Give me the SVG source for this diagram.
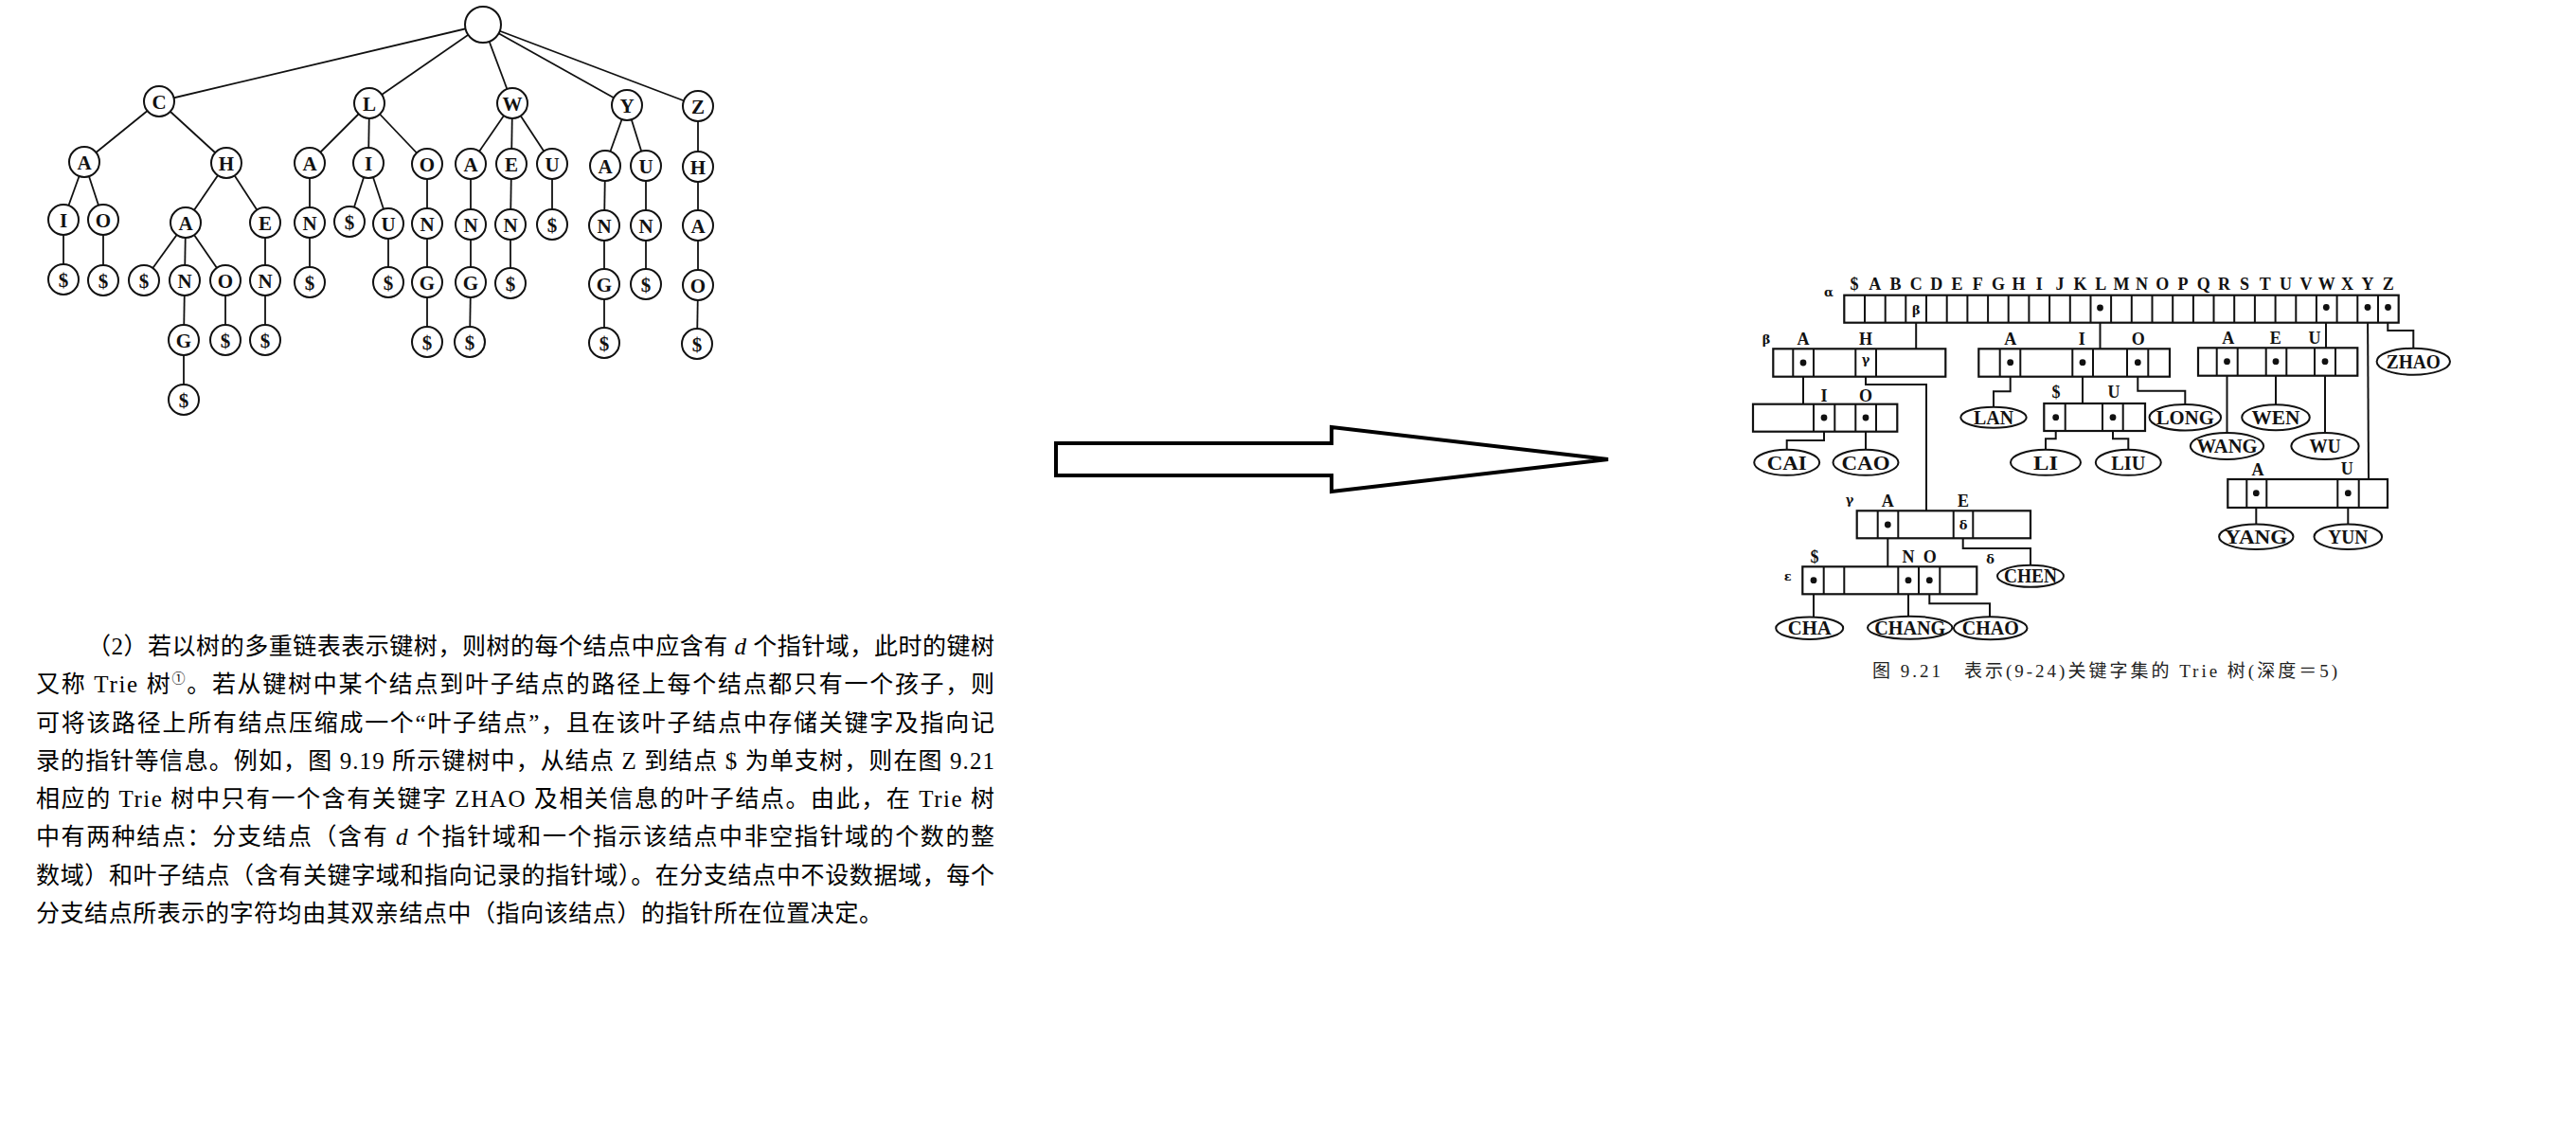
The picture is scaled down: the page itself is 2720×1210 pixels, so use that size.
<svg xmlns="http://www.w3.org/2000/svg" width="2720" height="1210" viewBox="0 0 2720 1210">
<style>
.bg{fill:#fff}
.tc{fill:#fff;stroke:#111;stroke-width:2}
.tl{font-family:"Liberation Serif",serif;font-weight:bold;font-size:21px;fill:#111;text-anchor:middle}
.ed{stroke:#111;stroke-width:1.8;fill:none}
.para{font-family:"Liberation Serif","Noto Sans CJK SC",serif;font-size:25px;fill:#000}
.box{fill:#fff;stroke:#111;stroke-width:2.2}
.dv{stroke:#111;stroke-width:2}
.lb{font-family:"Liberation Serif",serif;font-weight:bold;font-size:18px;fill:#111;text-anchor:middle}
.gk{font-family:"DejaVu Serif","Liberation Serif",serif;font-weight:bold;font-size:13px;fill:#111;text-anchor:middle}
.dot{fill:#111}
.ln{stroke:#111;stroke-width:2;fill:none}
.lf{fill:#fff;stroke:#111;stroke-width:2}
.lt{font-family:"Liberation Serif",serif;font-weight:bold;font-size:20px;fill:#111;text-anchor:middle}
.cap{font-family:"Liberation Serif","Noto Sans CJK SC",serif;font-size:19px;fill:#222}
.arrow{fill:#fff;stroke:#000;stroke-width:4;stroke-linejoin:miter}
</style>
<rect class="bg" x="0" y="0" width="2720" height="1210"/>

<!-- ===== Left: key tree ===== -->
<g id="tree-edges">
<line class="ed" x1="510" y1="26" x2="168" y2="107"/>
<line class="ed" x1="510" y1="26" x2="390" y2="109"/>
<line class="ed" x1="510" y1="26" x2="541" y2="109"/>
<line class="ed" x1="510" y1="26" x2="662" y2="111"/>
<line class="ed" x1="510" y1="26" x2="737" y2="112"/>
<line class="ed" x1="168" y1="107" x2="89" y2="171"/>
<line class="ed" x1="168" y1="107" x2="239" y2="172"/>
<line class="ed" x1="89" y1="171" x2="67" y2="232"/>
<line class="ed" x1="89" y1="171" x2="109" y2="232"/>
<line class="ed" x1="67" y1="232" x2="67" y2="295"/>
<line class="ed" x1="109" y1="232" x2="109" y2="296"/>
<line class="ed" x1="239" y1="172" x2="196" y2="235"/>
<line class="ed" x1="239" y1="172" x2="280" y2="235"/>
<line class="ed" x1="196" y1="235" x2="152" y2="296"/>
<line class="ed" x1="196" y1="235" x2="195" y2="296"/>
<line class="ed" x1="196" y1="235" x2="238" y2="296"/>
<line class="ed" x1="195" y1="296" x2="194" y2="359"/>
<line class="ed" x1="194" y1="359" x2="194" y2="422"/>
<line class="ed" x1="238" y1="296" x2="238" y2="359"/>
<line class="ed" x1="280" y1="235" x2="280" y2="296"/>
<line class="ed" x1="280" y1="296" x2="280" y2="359"/>
<line class="ed" x1="390" y1="109" x2="327" y2="172"/>
<line class="ed" x1="390" y1="109" x2="389" y2="172"/>
<line class="ed" x1="390" y1="109" x2="451" y2="173"/>
<line class="ed" x1="327" y1="172" x2="327" y2="235"/>
<line class="ed" x1="327" y1="235" x2="327" y2="298"/>
<line class="ed" x1="389" y1="172" x2="369" y2="234"/>
<line class="ed" x1="389" y1="172" x2="410" y2="236"/>
<line class="ed" x1="410" y1="236" x2="410" y2="298"/>
<line class="ed" x1="451" y1="173" x2="451" y2="236"/>
<line class="ed" x1="451" y1="236" x2="451" y2="298"/>
<line class="ed" x1="451" y1="298" x2="451" y2="361"/>
<line class="ed" x1="541" y1="109" x2="497" y2="173"/>
<line class="ed" x1="541" y1="109" x2="540" y2="173"/>
<line class="ed" x1="541" y1="109" x2="583" y2="173"/>
<line class="ed" x1="497" y1="173" x2="497" y2="237"/>
<line class="ed" x1="497" y1="237" x2="497" y2="298"/>
<line class="ed" x1="497" y1="298" x2="496" y2="361"/>
<line class="ed" x1="540" y1="173" x2="539" y2="237"/>
<line class="ed" x1="539" y1="237" x2="539" y2="299"/>
<line class="ed" x1="583" y1="173" x2="583" y2="237"/>
<line class="ed" x1="662" y1="111" x2="639" y2="175"/>
<line class="ed" x1="662" y1="111" x2="682" y2="175"/>
<line class="ed" x1="639" y1="175" x2="638" y2="238"/>
<line class="ed" x1="638" y1="238" x2="638" y2="300"/>
<line class="ed" x1="638" y1="300" x2="638" y2="362"/>
<line class="ed" x1="682" y1="175" x2="682" y2="238"/>
<line class="ed" x1="682" y1="238" x2="682" y2="300"/>
<line class="ed" x1="737" y1="112" x2="737" y2="176"/>
<line class="ed" x1="737" y1="176" x2="737" y2="238"/>
<line class="ed" x1="737" y1="238" x2="737" y2="301"/>
<line class="ed" x1="737" y1="301" x2="736" y2="363"/>
</g>

<g id="t-root"><circle class="tc" cx="510" cy="26" r="19"/></g>
<g id="t-C"><circle class="tc" cx="168" cy="107" r="16"/><text class="tl" x="168" y="114.5">C</text></g>
<g id="t-L"><circle class="tc" cx="390" cy="109" r="16"/><text class="tl" x="390" y="116.5">L</text></g>
<g id="t-W"><circle class="tc" cx="541" cy="109" r="16"/><text class="tl" x="541" y="116.5">W</text></g>
<g id="t-Y"><circle class="tc" cx="662" cy="111" r="16"/><text class="tl" x="662" y="118.5">Y</text></g>
<g id="t-Z"><circle class="tc" cx="737" cy="112" r="16"/><text class="tl" x="737" y="119.5">Z</text></g>

<g id="t-CA"><circle class="tc" cx="89" cy="171" r="16"/><text class="tl" x="89" y="178.5">A</text></g>
<g id="t-CH"><circle class="tc" cx="239" cy="172" r="16"/><text class="tl" x="239" y="179.5">H</text></g>
<g id="t-LA"><circle class="tc" cx="327" cy="172" r="16"/><text class="tl" x="327" y="179.5">A</text></g>
<g id="t-LI"><circle class="tc" cx="389" cy="172" r="16"/><text class="tl" x="389" y="179.5">I</text></g>
<g id="t-LO"><circle class="tc" cx="451" cy="173" r="16"/><text class="tl" x="451" y="180.5">O</text></g>
<g id="t-WA"><circle class="tc" cx="497" cy="173" r="16"/><text class="tl" x="497" y="180.5">A</text></g>
<g id="t-WE"><circle class="tc" cx="540" cy="173" r="16"/><text class="tl" x="540" y="180.5">E</text></g>
<g id="t-WU"><circle class="tc" cx="583" cy="173" r="16"/><text class="tl" x="583" y="180.5">U</text></g>
<g id="t-YA"><circle class="tc" cx="639" cy="175" r="16"/><text class="tl" x="639" y="182.5">A</text></g>
<g id="t-YU"><circle class="tc" cx="682" cy="175" r="16"/><text class="tl" x="682" y="182.5">U</text></g>
<g id="t-ZH"><circle class="tc" cx="737" cy="176" r="16"/><text class="tl" x="737" y="183.5">H</text></g>

<g id="t-CAI"><circle class="tc" cx="67" cy="232" r="16"/><text class="tl" x="67" y="239.5">I</text></g>
<g id="t-CAO"><circle class="tc" cx="109" cy="232" r="16"/><text class="tl" x="109" y="239.5">O</text></g>
<g id="t-CHA"><circle class="tc" cx="196" cy="235" r="16"/><text class="tl" x="196" y="242.5">A</text></g>
<g id="t-CHE"><circle class="tc" cx="280" cy="235" r="16"/><text class="tl" x="280" y="242.5">E</text></g>
<g id="t-LAN"><circle class="tc" cx="327" cy="235" r="16"/><text class="tl" x="327" y="242.5">N</text></g>
<g id="t-LI$"><circle class="tc" cx="369" cy="234" r="16"/><text class="tl" x="369" y="241.5">$</text></g>
<g id="t-LIU"><circle class="tc" cx="410" cy="236" r="16"/><text class="tl" x="410" y="243.5">U</text></g>
<g id="t-LON"><circle class="tc" cx="451" cy="236" r="16"/><text class="tl" x="451" y="243.5">N</text></g>
<g id="t-WAN"><circle class="tc" cx="497" cy="237" r="16"/><text class="tl" x="497" y="244.5">N</text></g>
<g id="t-WEN"><circle class="tc" cx="539" cy="237" r="16"/><text class="tl" x="539" y="244.5">N</text></g>
<g id="t-WU$"><circle class="tc" cx="583" cy="237" r="16"/><text class="tl" x="583" y="244.5">$</text></g>
<g id="t-YAN"><circle class="tc" cx="638" cy="238" r="16"/><text class="tl" x="638" y="245.5">N</text></g>
<g id="t-YUN"><circle class="tc" cx="682" cy="238" r="16"/><text class="tl" x="682" y="245.5">N</text></g>
<g id="t-ZHA"><circle class="tc" cx="737" cy="238" r="16"/><text class="tl" x="737" y="245.5">A</text></g>

<g id="t-CAI$"><circle class="tc" cx="67" cy="295" r="16"/><text class="tl" x="67" y="302.5">$</text></g>
<g id="t-CAO$"><circle class="tc" cx="109" cy="296" r="16"/><text class="tl" x="109" y="303.5">$</text></g>
<g id="t-CHA$"><circle class="tc" cx="152" cy="296" r="16"/><text class="tl" x="152" y="303.5">$</text></g>
<g id="t-CHAN"><circle class="tc" cx="195" cy="296" r="16"/><text class="tl" x="195" y="303.5">N</text></g>
<g id="t-CHAO"><circle class="tc" cx="238" cy="296" r="16"/><text class="tl" x="238" y="303.5">O</text></g>
<g id="t-CHEN"><circle class="tc" cx="280" cy="296" r="16"/><text class="tl" x="280" y="303.5">N</text></g>
<g id="t-LAN$"><circle class="tc" cx="327" cy="298" r="16"/><text class="tl" x="327" y="305.5">$</text></g>
<g id="t-LIU$"><circle class="tc" cx="410" cy="298" r="16"/><text class="tl" x="410" y="305.5">$</text></g>
<g id="t-LONG"><circle class="tc" cx="451" cy="298" r="16"/><text class="tl" x="451" y="305.5">G</text></g>
<g id="t-WANG"><circle class="tc" cx="497" cy="298" r="16"/><text class="tl" x="497" y="305.5">G</text></g>
<g id="t-WEN$"><circle class="tc" cx="539" cy="299" r="16"/><text class="tl" x="539" y="306.5">$</text></g>
<g id="t-YANG"><circle class="tc" cx="638" cy="300" r="16"/><text class="tl" x="638" y="307.5">G</text></g>
<g id="t-YUN$"><circle class="tc" cx="682" cy="300" r="16"/><text class="tl" x="682" y="307.5">$</text></g>
<g id="t-ZHAO"><circle class="tc" cx="737" cy="301" r="16"/><text class="tl" x="737" y="308.5">O</text></g>

<g id="t-CHANG"><circle class="tc" cx="194" cy="359" r="16"/><text class="tl" x="194" y="366.5">G</text></g>
<g id="t-CHAO$"><circle class="tc" cx="238" cy="359" r="16"/><text class="tl" x="238" y="366.5">$</text></g>
<g id="t-CHEN$"><circle class="tc" cx="280" cy="359" r="16"/><text class="tl" x="280" y="366.5">$</text></g>
<g id="t-LONG$"><circle class="tc" cx="451" cy="361" r="16"/><text class="tl" x="451" y="368.5">$</text></g>
<g id="t-WANG$"><circle class="tc" cx="496" cy="361" r="16"/><text class="tl" x="496" y="368.5">$</text></g>
<g id="t-YANG$"><circle class="tc" cx="638" cy="362" r="16"/><text class="tl" x="638" y="369.5">$</text></g>
<g id="t-ZHAO$"><circle class="tc" cx="736" cy="363" r="16"/><text class="tl" x="736" y="370.5">$</text></g>
<g id="t-CHANG$"><circle class="tc" cx="194" cy="422" r="16"/><text class="tl" x="194" y="429.5">$</text></g>

<!-- ===== paragraph ===== -->
<g id="paragraph">
<text class="para" x="92" y="691" textLength="958" lengthAdjust="spacing">（2）若以树的多重链表表示键树，则树的每个结点中应含有 <tspan font-style="italic">d</tspan> 个指针域，此时的键树</text>
<text class="para" x="38" y="731" textLength="1012" lengthAdjust="spacing">又称 Trie 树<tspan font-size="14" dy="-10">①</tspan><tspan dy="10">。若从键树中某个结点到叶子结点的路径上每个结点都只有一个孩子，则</tspan></text>
<text class="para" x="38" y="771.5" textLength="1012" lengthAdjust="spacing">可将该路径上所有结点压缩成一个“叶子结点”，且在该叶子结点中存储关键字及指向记</text>
<text class="para" x="38" y="811.5" textLength="1012" lengthAdjust="spacing">录的指针等信息。例如，图 9.19 所示键树中，从结点 Z 到结点 $ 为单支树，则在图 9.21</text>
<text class="para" x="38" y="852" textLength="1012" lengthAdjust="spacing">相应的 Trie 树中只有一个含有关键字 ZHAO 及相关信息的叶子结点。由此，在 Trie 树</text>
<text class="para" x="38" y="892" textLength="1012" lengthAdjust="spacing">中有两种结点：分支结点（含有 <tspan font-style="italic">d</tspan> 个指针域和一个指示该结点中非空指针域的个数的整</text>
<text class="para" x="38" y="932.5" textLength="1012" lengthAdjust="spacing">数域）和叶子结点（含有关键字域和指向记录的指针域）。在分支结点中不设数据域，每个</text>
<text class="para" x="38" y="973" textLength="894" lengthAdjust="spacing">分支结点所表示的字符均由其双亲结点中（指向该结点）的指针所在位置决定。</text>
</g>

<!-- ===== arrow ===== -->
<g id="big-arrow">
<polygon class="arrow" points="1115,468 1406,468 1406,451 1698,485 1406,519 1406,502 1115,502"/>
</g>

<!-- ===== Right: Trie ===== -->
<g id="trie-connectors">
<polyline class="ln" points="2023.2,340.7 2023.2,368.3"/>
<polyline class="ln" points="2217.5,325 2217.5,368.3"/>
<polyline class="ln" points="2456,324 2456,367.3"/>
<polyline class="ln" points="2500,324 2501,506"/>
<polyline class="ln" points="2521.3,324 2521.3,349 2548.3,349 2548.3,367.7"/>
<polyline class="ln" points="1904,383 1904,426.7"/>
<polyline class="ln" points="1970,397.7 1970,406 2034,406 2034,539.3"/>
<polyline class="ln" points="1926,441 1926,465 1886.7,465 1886.7,475"/>
<polyline class="ln" points="1970,441 1970,475"/>
<polyline class="ln" points="1993.3,554 1993.3,598.3"/>
<polyline class="ln" points="2072.7,568.3 2072.7,579 2144,579 2144,597.3"/>
<polyline class="ln" points="1915,612.7 1915,651.7"/>
<polyline class="ln" points="2015,612.7 2015,650.7"/>
<polyline class="ln" points="2037.3,612.7 2037.3,637.3 2101,637.3 2101,651.5"/>
<polyline class="ln" points="2122.7,382.7 2122.7,413.3 2105,413.3 2105,430"/>
<polyline class="ln" points="2199,382.7 2199,426"/>
<polyline class="ln" points="2257.3,382.7 2257.3,412.7 2307.3,412.7 2307.3,427"/>
<polyline class="ln" points="2170.7,440.7 2170.7,463.3 2160,463.3 2160,474.6"/>
<polyline class="ln" points="2231,440.7 2231,463.3 2247.3,463.3 2247.3,474.6"/>
<polyline class="ln" points="2351.5,381.7 2351.5,457"/>
<polyline class="ln" points="2403,381.7 2403,427.2"/>
<polyline class="ln" points="2455,381.7 2455,457"/>
<polyline class="ln" points="2382.3,520.7 2382.3,553.4"/>
<polyline class="ln" points="2479.3,520.7 2479.3,553.4"/>
</g>

<g id="n-alpha">
<text class="gk" x="1931" y="313" font-size="12">α</text>
<g class="lb">
<text x="1958.1" y="306">$</text><text x="1979.8" y="306">A</text><text x="2001.5" y="306">B</text><text x="2023.2" y="306">C</text><text x="2044.8" y="306">D</text><text x="2066.5" y="306">E</text><text x="2088.2" y="306">F</text><text x="2109.9" y="306">G</text><text x="2131.6" y="306">H</text><text x="2153.2" y="306">I</text><text x="2174.9" y="306">J</text><text x="2196.6" y="306">K</text><text x="2218.3" y="306">L</text><text x="2240" y="306">M</text><text x="2261.6" y="306">N</text><text x="2283.3" y="306">O</text><text x="2305" y="306">P</text><text x="2326.7" y="306">Q</text><text x="2348.4" y="306">R</text><text x="2370" y="306">S</text><text x="2391.7" y="306">T</text><text x="2413.4" y="306">U</text><text x="2435.1" y="306">V</text><text x="2456.8" y="306">W</text><text x="2478.4" y="306">X</text><text x="2500.1" y="306">Y</text><text x="2521.8" y="306">Z</text>
</g>
<rect class="box" x="1947.3" y="311.7" width="585.4" height="29"/>
<path class="dv" d="M1969,311.7V340.7M1990.7,311.7V340.7M2012.3,311.7V340.7M2034,311.7V340.7M2055.7,311.7V340.7M2077.4,311.7V340.7M2099.1,311.7V340.7M2120.7,311.7V340.7M2142.4,311.7V340.7M2164.1,311.7V340.7M2185.8,311.7V340.7M2207.5,311.7V340.7M2229.1,311.7V340.7M2250.8,311.7V340.7M2272.5,311.7V340.7M2294.2,311.7V340.7M2315.9,311.7V340.7M2337.5,311.7V340.7M2359.2,311.7V340.7M2380.9,311.7V340.7M2402.6,311.7V340.7M2424.3,311.7V340.7M2445.9,311.7V340.7M2467.6,311.7V340.7M2489.3,311.7V340.7M2511,311.7V340.7"/>
<text class="gk" x="2023.2" y="332">β</text>
<circle class="dot" cx="2217.5" cy="325" r="3.4"/>
<circle class="dot" cx="2456.3" cy="324.5" r="3.4"/>
<circle class="dot" cx="2500" cy="324.5" r="3.4"/>
<circle class="dot" cx="2521.5" cy="324.5" r="3.4"/>
</g>

<g id="n-beta">
<text class="gk" x="1865" y="363">β</text>
<text class="lb" x="1904" y="364">A</text>
<text class="lb" x="1970" y="364">H</text>
<rect class="box" x="1872.3" y="368.3" width="182" height="29.4"/>
<path class="dv" d="M1893.3,368.3V397.7M1915,368.3V397.7M1959.3,368.3V397.7M1981,368.3V397.7"/>
<circle class="dot" cx="1904" cy="383" r="3.4"/>
<text class="gk" x="1970" y="384">γ</text>
</g>

<g id="n-CA">
<text class="lb" x="1926" y="424">I</text>
<text class="lb" x="1970" y="424">O</text>
<rect class="box" x="1851" y="426.7" width="152.3" height="29"/>
<path class="dv" d="M1915,426.7V455.7M1937.3,426.7V455.7M1959.3,426.7V455.7M1981,426.7V455.7"/>
<circle class="dot" cx="1926" cy="441" r="3.4"/>
<circle class="dot" cx="1970" cy="441" r="3.4"/>
</g>

<g id="n-gamma">
<text class="gk" x="1953" y="532">γ</text>
<text class="lb" x="1993.3" y="535">A</text>
<text class="lb" x="2073" y="535">E</text>
<rect class="box" x="1960.7" y="539.3" width="183.3" height="29"/>
<path class="dv" d="M1982.7,539.3V568.3M2004.3,539.3V568.3M2062.7,539.3V568.3M2083.3,539.3V568.3"/>
<circle class="dot" cx="1993.3" cy="554" r="3.4"/>
<text class="gk" x="2073" y="559">δ</text>
</g>
<text id="lbl-delta" class="gk" x="2101.7" y="595">δ</text>

<g id="n-eps">
<text class="gk" x="1887.7" y="613">ε</text>
<text class="lb" x="1916" y="594">$</text>
<text class="lb" x="2015" y="594">N</text>
<text class="lb" x="2037.7" y="594">O</text>
<rect class="box" x="1903.3" y="598.3" width="184" height="29"/>
<path class="dv" d="M1925.7,598.3V627.3M1947.3,598.3V627.3M2004.3,598.3V627.3M2026,598.3V627.3M2048.3,598.3V627.3"/>
<circle class="dot" cx="1915" cy="612.7" r="3.4"/>
<circle class="dot" cx="2015" cy="612.7" r="3.4"/>
<circle class="dot" cx="2037.3" cy="612.7" r="3.4"/>
</g>

<g id="n-L">
<text class="lb" x="2122.7" y="364">A</text>
<text class="lb" x="2198.3" y="364">I</text>
<text class="lb" x="2257.7" y="364">O</text>
<rect class="box" x="2089.3" y="368.3" width="201.7" height="29.4"/>
<path class="dv" d="M2111.7,368.3V397.7M2133.3,368.3V397.7M2188.3,368.3V397.7M2210,368.3V397.7M2246,368.3V397.7M2268.3,368.3V397.7"/>
<circle class="dot" cx="2122.7" cy="382.7" r="3.4"/>
<circle class="dot" cx="2199" cy="382.7" r="3.4"/>
<circle class="dot" cx="2257.3" cy="382.7" r="3.4"/>
</g>

<g id="n-LI">
<text class="lb" x="2171" y="420">$</text>
<text class="lb" x="2232" y="420">U</text>
<rect class="box" x="2158.3" y="426" width="106.7" height="29"/>
<path class="dv" d="M2180.7,426V455M2220,426V455M2241.7,426V455"/>
<circle class="dot" cx="2170.7" cy="440.7" r="3.4"/>
<circle class="dot" cx="2231" cy="440.7" r="3.4"/>
</g>

<g id="n-W">
<text class="lb" x="2352.7" y="363">A</text>
<text class="lb" x="2402.7" y="363">E</text>
<text class="lb" x="2444" y="363">U</text>
<rect class="box" x="2321" y="367.3" width="168.3" height="29.4"/>
<path class="dv" d="M2340.7,367.3V396.7M2362.7,367.3V396.7M2392.7,367.3V396.7M2414.3,367.3V396.7M2444,367.3V396.7M2466,367.3V396.7"/>
<circle class="dot" cx="2351.5" cy="381.7" r="3.4"/>
<circle class="dot" cx="2403" cy="381.7" r="3.4"/>
<circle class="dot" cx="2455" cy="381.7" r="3.4"/>
</g>

<g id="n-Y">
<text class="lb" x="2384" y="502">A</text>
<text class="lb" x="2478.3" y="501">U</text>
<rect class="box" x="2352.3" y="506" width="168.7" height="30"/>
<path class="dv" d="M2372.3,506V536M2393.3,506V536M2468.3,506V536M2490.7,506V536"/>
<circle class="dot" cx="2382.3" cy="520.7" r="3.4"/>
<circle class="dot" cx="2479.3" cy="520.7" r="3.4"/>
</g>

<g id="leaf-CAI"><ellipse class="lf" cx="1886.7" cy="488.3" rx="34.5" ry="13.5"/><text class="lt" x="1886.7" y="495.5" textLength="42" lengthAdjust="spacingAndGlyphs">CAI</text></g>
<g id="leaf-CAO"><ellipse class="lf" cx="1970" cy="488.3" rx="34.5" ry="13.5"/><text class="lt" x="1970" y="495.5" textLength="51" lengthAdjust="spacingAndGlyphs">CAO</text></g>
<g id="leaf-LAN"><ellipse class="lf" cx="2105" cy="440.7" rx="34.7" ry="11"/><text class="lt" x="2105" y="447.5" textLength="42" lengthAdjust="spacingAndGlyphs">LAN</text></g>
<g id="leaf-LI"><ellipse class="lf" cx="2160" cy="488.3" rx="37" ry="13.5"/><text class="lt" x="2160" y="495.5" textLength="26" lengthAdjust="spacingAndGlyphs">LI</text></g>
<g id="leaf-LIU"><ellipse class="lf" cx="2247.3" cy="488.3" rx="34.5" ry="13.5"/><text class="lt" x="2247.3" y="495.5" textLength="36" lengthAdjust="spacingAndGlyphs">LIU</text></g>
<g id="leaf-LONG"><ellipse class="lf" cx="2307.3" cy="440.7" rx="37.8" ry="13.8"/><text class="lt" x="2307.3" y="448" textLength="61" lengthAdjust="spacingAndGlyphs">LONG</text></g>
<g id="leaf-WANG"><ellipse class="lf" cx="2351.5" cy="471" rx="38.7" ry="14"/><text class="lt" x="2351.5" y="478.3" textLength="64" lengthAdjust="spacingAndGlyphs">WANG</text></g>
<g id="leaf-WEN"><ellipse class="lf" cx="2403" cy="440.7" rx="35.8" ry="13.5"/><text class="lt" x="2403" y="448" textLength="51" lengthAdjust="spacingAndGlyphs">WEN</text></g>
<g id="leaf-WU"><ellipse class="lf" cx="2455" cy="471" rx="35.7" ry="14"/><text class="lt" x="2455" y="478.3" textLength="33" lengthAdjust="spacingAndGlyphs">WU</text></g>
<g id="leaf-ZHAO"><ellipse class="lf" cx="2548.3" cy="381.7" rx="38.7" ry="14"/><text class="lt" x="2548.3" y="389" textLength="57" lengthAdjust="spacingAndGlyphs">ZHAO</text></g>
<g id="leaf-YANG"><ellipse class="lf" cx="2382.3" cy="566.7" rx="39.2" ry="13.3"/><text class="lt" x="2382.3" y="574" textLength="66" lengthAdjust="spacingAndGlyphs">YANG</text></g>
<g id="leaf-YUN"><ellipse class="lf" cx="2479.3" cy="566.7" rx="35.8" ry="13.3"/><text class="lt" x="2479.3" y="574" textLength="42" lengthAdjust="spacingAndGlyphs">YUN</text></g>
<g id="leaf-CHEN"><ellipse class="lf" cx="2144" cy="608.3" rx="35" ry="11.5"/><text class="lt" x="2144" y="615.3" textLength="56" lengthAdjust="spacingAndGlyphs">CHEN</text></g>
<g id="leaf-CHA"><ellipse class="lf" cx="1910.7" cy="663.3" rx="35.5" ry="11.7"/><text class="lt" x="1910.7" y="670.3" textLength="46" lengthAdjust="spacingAndGlyphs">CHA</text></g>
<g id="leaf-CHANG"><ellipse class="lf" cx="2016.7" cy="662.7" rx="44.7" ry="12"/><text class="lt" x="2016.7" y="669.8" textLength="75" lengthAdjust="spacingAndGlyphs">CHANG</text></g>
<g id="leaf-CHAO"><ellipse class="lf" cx="2101.7" cy="663.3" rx="38.8" ry="12"/><text class="lt" x="2101.7" y="670.3" textLength="60" lengthAdjust="spacingAndGlyphs">CHAO</text></g>

<text id="caption" class="cap" x="1977" y="715" textLength="491" lengthAdjust="spacing">图 9.21　表示(9-24)关键字集的 Trie 树(深度＝5)</text>
</svg>
